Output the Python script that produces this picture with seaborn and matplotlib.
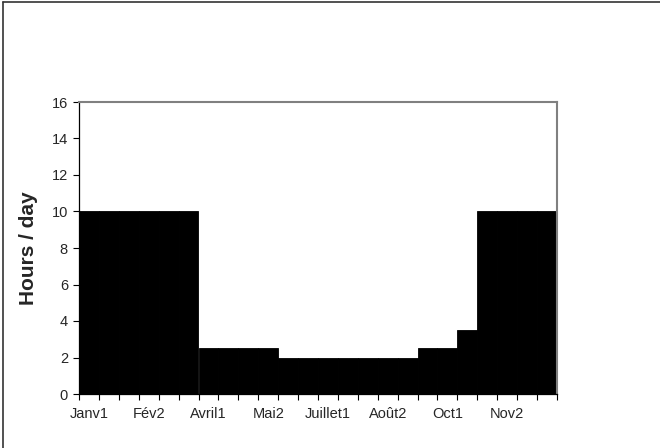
import pandas as pd
import matplotlib.pyplot as plt
import seaborn as sns
from matplotlib.lines import Line2D

# half-month periods
periods = ['Janv1', 'Janv2', 'Fév1', 'Fév2', 'Mars1', 'Mars2',
           'Avril1', 'Avril2', 'Mai1', 'Mai2', 'Juin1', 'Juin2',
           'Juillet1', 'Juillet2', 'Août1', 'Août2', 'Sept1', 'Sept2',
           'Oct1', 'Oct2', 'Nov1', 'Nov2', 'Déc1', 'Déc2']
hours = [10, 10, 10, 10, 10, 10,
         2.5, 2.5, 2.5, 2.5, 2, 2,
         2, 2, 2, 2, 2, 2.5,
         2.5, 3.5, 10, 10, 10, 10]
shown_labels = ['Janv1', 'Fév2', 'Avril1', 'Mai2', 'Juillet1', 'Août2', 'Oct1', 'Nov2']
y_ticks = [0, 2, 4, 6, 8, 10, 12, 14, 16]

df = pd.DataFrame({'period': periods, 'hours': hours})

sns.set_style('white')
plt.rcParams['font.family'] = ['Liberation Sans', 'DejaVu Sans']

fig = plt.figure(figsize=(6.6, 4.48), dpi=100)
ax = fig.add_axes([79 / 660, 1 - 394 / 448, (557 - 79) / 660, (394 - 102) / 448])

sns.barplot(data=df, x='period', y='hours', order=periods, color='black',
            width=1.0, saturation=1, edgecolor='black', linewidth=0.6, ax=ax)

ax.set_xlim(-0.5, len(periods) - 0.5)
ax.set_ylim(0, 16)
ax.set_yticks(y_ticks)
ax.set_yticklabels([str(t) for t in y_ticks], fontsize=10.5)

# ticks between categories, labels on categories (every 3rd)
ax.set_xticks([i - 0.5 for i in range(len(periods) + 1)])
ax.set_xticklabels([])
label_pos = [periods.index(p) for p in shown_labels]
ax.set_xticks(label_pos, minor=True)
ax.set_xticklabels(shown_labels, minor=True, fontsize=10.5)
ax.tick_params(axis='x', which='major', direction='out', length=4, width=0.8, color='black', bottom=True)
ax.tick_params(axis='x', which='minor', length=0, pad=9, bottom=True)
ax.tick_params(axis='y', direction='out', length=4, width=0.8, color='black', left=True, pad=4)

ax.set_xlabel('')
ax.set_ylabel('Hours / day', fontsize=15, fontweight='bold')
ax.yaxis.set_label_coords(-(79 - 38) / 478, 0.5)

for side in ['left', 'bottom']:
    ax.spines[side].set_color('black')
    ax.spines[side].set_linewidth(0.9)
for side in ['top', 'right']:
    ax.spines[side].set_visible(True)
    ax.spines[side].set_color('#808080')
    ax.spines[side].set_linewidth(1.5)

# outer chart frame (top and left edges visible)
fig.add_artist(Line2D([3 / 660, 1], [1 - 2.5 / 448, 1 - 2.5 / 448], color='#333333', lw=1.2))
fig.add_artist(Line2D([3 / 660, 3 / 660], [0, 1 - 2.5 / 448], color='#333333', lw=1.2))

fig.savefig('out.png', dpi=100)
